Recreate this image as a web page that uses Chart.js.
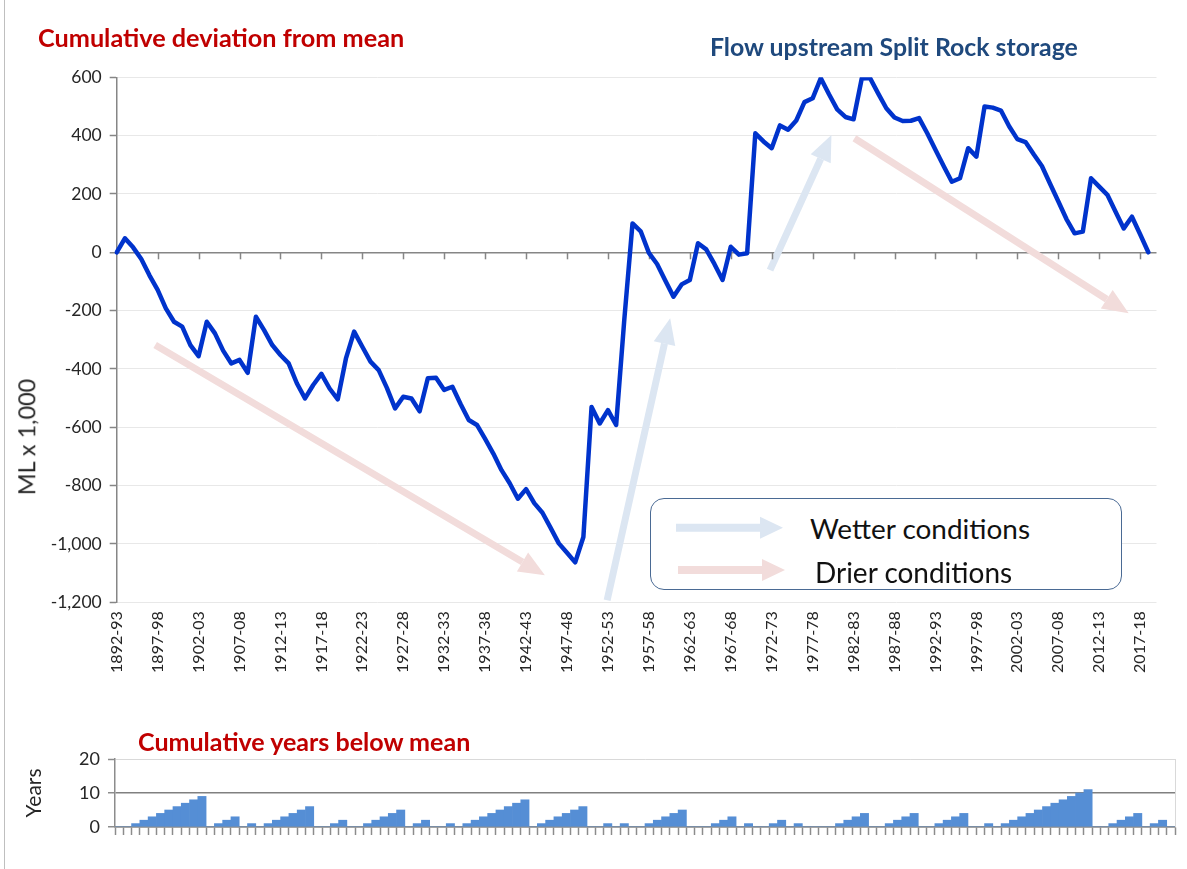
<!DOCTYPE html>
<html>
<head>
<meta charset="utf-8">
<title>Flow upstream Split Rock storage</title>
<script src="https://cdn.jsdelivr.net/npm/chart.js@4.4.1/dist/chart.umd.min.js"></script>
<style>
    body { margin: 0; background: #ffffff; }
    #marco { position: relative; width: 1187px; height: 869px; overflow: hidden; font-family: Lato, "Open Sans", sans-serif; background: #fff; }
    #marco canvas { position: absolute; left: 0; }
    #grafico-linea { top: 0; }
    #grafico-barras { top: 700px; }
    .texto { position: absolute; white-space: nowrap; line-height: 1; transform: translateY(-50%); z-index: 3; }
    .titulo { font-weight: bold; font-size: 20px; }
    .titulo-eje { position: absolute; white-space: nowrap; line-height: 1; font-size: 20px; color: #262626;
                  transform: translate(-50%, -50%) rotate(-90deg); z-index: 3; }
    #leyenda { position: absolute; left: 650px; top: 498px; width: 472px; height: 92px; box-sizing: border-box;
               border: 1.5px solid #4A6A94; border-radius: 14px; background: #fff; z-index: 2; }
    #leyenda svg { position: absolute; left: 0; top: 0; }
    .leyenda-texto { font-size: 24px; color: #111; }
    #borde { position: absolute; left: 4px; top: 0; width: 1px; height: 869px; background: #BFBFBF; }
</style>
</head>
<body>
<div id="marco">
    <div id="borde"></div>
    <canvas id="grafico-linea" width="1187" height="700"></canvas>
    <canvas id="grafico-barras" width="1187" height="169"></canvas>

    <div class="texto titulo" style="left:38px; top:38px; color:#C00000;" data-ancho="366">Cumulative deviation from mean</div>
    <div class="texto titulo" style="left:710px; top:46px; color:#1F497D;" data-ancho="368">Flow upstream Split Rock storage</div>
    <div class="texto titulo" style="left:138px; top:742px; color:#C00000;" data-ancho="332">Cumulative years below mean</div>
    <div class="titulo-eje" style="left:27px; top:437px;" data-ancho="116">ML x 1,000</div>

    <div id="leyenda">
        <svg width="472" height="92">
            <path d="M25 24.7 H109 V17.7 L132 28.7 L109 39.7 V32.7 H25 Z" fill="#DCE6F2"/>
            <path d="M27 67 H111 V60 L134 71 L111 82 V75 H27 Z" fill="#F2DCDB"/>
        </svg>
    </div>
    <div class="texto leyenda-texto" style="left:810px; top:529px;" data-ancho="220">Wetter conditions</div>
    <div class="texto leyenda-texto" style="left:815px; top:573px;" data-ancho="197">Drier conditions</div>
</div>

<script>
// Años hidrológicos (categorías de ambos gráficos)
var categorias = [
    "1892-93","1893-94","1894-95","1895-96","1896-97","1897-98","1898-99","1899-00","1900-01","1901-02",
    "1902-03","1903-04","1904-05","1905-06","1906-07","1907-08","1908-09","1909-10","1910-11","1911-12",
    "1912-13","1913-14","1914-15","1915-16","1916-17","1917-18","1918-19","1919-20","1920-21","1921-22",
    "1922-23","1923-24","1924-25","1925-26","1926-27","1927-28","1928-29","1929-30","1930-31","1931-32",
    "1932-33","1933-34","1934-35","1935-36","1936-37","1937-38","1938-39","1939-40","1940-41","1941-42",
    "1942-43","1943-44","1944-45","1945-46","1946-47","1947-48","1948-49","1949-50","1950-51","1951-52",
    "1952-53","1953-54","1954-55","1955-56","1956-57","1957-58","1958-59","1959-60","1960-61","1961-62",
    "1962-63","1963-64","1964-65","1965-66","1966-67","1967-68","1968-69","1969-70","1970-71","1971-72",
    "1972-73","1973-74","1974-75","1975-76","1976-77","1977-78","1978-79","1979-80","1980-81","1981-82",
    "1982-83","1983-84","1984-85","1985-86","1986-87","1987-88","1988-89","1989-90","1990-91","1991-92",
    "1992-93","1993-94","1994-95","1995-96","1996-97","1997-98","1998-99","1999-00","2000-01","2001-02",
    "2002-03","2003-04","2004-05","2005-06","2006-07","2007-08","2008-09","2009-10","2010-11","2011-12",
    "2012-13","2013-14","2014-15","2015-16","2016-17","2017-18","2018-19","2019-20"
];

// Desviación acumulada respecto a la media (ML x 1,000)
var desviacionAcumulada = [
    0, 48, 17, -23, -79, -129, -192, -238, -255, -318,
    -356, -238, -278, -337, -381, -369, -413, -221, -267, -318,
    -352, -381, -449, -501, -455, -417, -467, -504, -364, -272,
    -324, -375, -404, -465, -535, -495, -501, -545, -432, -430,
    -472, -461, -520, -575, -592, -640, -690, -747, -792, -845,
    -812, -860, -893, -945, -998, -1030, -1063, -976, -530, -587,
    -541, -592, -230, 99, 72, -2, -40, -97, -152, -110,
    -95, 31, 10, -40, -95, 19, -8, -3, 408, 380,
    357, 435, 420, 452, 515, 528, 597, 542, 490, 464,
    456, 596, 598, 545, 494, 462, 450, 451, 460, 408,
    352, 296, 242, 254, 357, 328, 500, 496, 486, 432,
    388, 378, 336, 296, 235, 175, 114, 65, 71, 254,
    225, 197, 139, 82, 122, 62, 0, null
];

// Años acumulados por debajo de la media
var aniosBajoMedia = [
    0, 0, 1, 2, 3, 4, 5, 6, 7, 8,
    9, 0, 1, 2, 3, 0, 1, 0, 1, 2,
    3, 4, 5, 6, 0, 0, 1, 2, 0, 0,
    1, 2, 3, 4, 5, 0, 1, 2, 0, 0,
    1, 0, 1, 2, 3, 4, 5, 6, 7, 8,
    0, 1, 2, 3, 4, 5, 6, 0, 0, 1,
    0, 1, 0, 0, 1, 2, 3, 4, 5, 0,
    0, 0, 1, 2, 3, 0, 1, 0, 0, 1,
    2, 0, 1, 0, 0, 0, 0, 1, 2, 3,
    4, 0, 0, 1, 2, 3, 4, 0, 0, 1,
    2, 3, 4, 0, 0, 1, 0, 1, 2, 3,
    4, 5, 6, 7, 8, 9, 10, 11, 0, 0,
    1, 2, 3, 4, 0, 1, 2, 0
];

// Marcas de los ejes
var marcasDesviacion = [600, 400, 200, 0, -200, -400, -600, -800, -1000, -1200];
var marcasAnios = [0, 10, 20];

// Flechas de tendencia (en coordenadas de los datos: índice de año, valor)
var flechas = [
    { tipo: "seco",   desde: [4.7, -318],  hasta: [52.3, -1107] },
    { tipo: "humedo", desde: [59.9, -1193], hasta: [67.6, -226] },
    { tipo: "humedo", desde: [79.8, -61],  hasta: [87.3, 402] },
    { tipo: "seco",   desde: [90.1, 391],  hasta: [123.6, -209] }
];
var coloresFlecha = { humedo: "#DCE6F2", seco: "#F2DCDB" };

var fuente = "Lato, 'Open Sans', sans-serif";
var colorTexto = "#262626";
var colorEje = "#868686";

// Formato de miles con coma
function formatearMiles(valor) {
    return valor.toLocaleString("en-US");
}

// Dibuja una flecha con cuerpo y punta triangular
function dibujarFlecha(ctx, x1, y1, x2, y2, color, grosor, largoPunta, anchoPunta) {
    var ang = Math.atan2(y2 - y1, x2 - x1);
    var bx = x2 - largoPunta * Math.cos(ang);
    var by = y2 - largoPunta * Math.sin(ang);
    ctx.save();
    ctx.strokeStyle = color;
    ctx.lineWidth = grosor;
    ctx.beginPath();
    ctx.moveTo(x1, y1);
    ctx.lineTo(bx, by);
    ctx.stroke();
    ctx.fillStyle = color;
    ctx.beginPath();
    ctx.moveTo(x2, y2);
    ctx.lineTo(bx + anchoPunta / 2 * Math.sin(ang), by - anchoPunta / 2 * Math.cos(ang));
    ctx.lineTo(bx - anchoPunta / 2 * Math.sin(ang), by + anchoPunta / 2 * Math.cos(ang));
    ctx.closePath();
    ctx.fill();
    ctx.restore();
}

// Plugin: flechas de tendencia y marcas sobre la línea del cero
var pluginAnotaciones = {
    id: "anotaciones",
    beforeDatasetsDraw: function (chart) {
        var ctx = chart.ctx;
        var ejeX = chart.scales.x;
        var ejeY = chart.scales.y;
        flechas.forEach(function (f) {
            dibujarFlecha(ctx,
                ejeX.getPixelForValue(f.desde[0]), ejeY.getPixelForValue(f.desde[1]),
                ejeX.getPixelForValue(f.hasta[0]), ejeY.getPixelForValue(f.hasta[1]),
                coloresFlecha[f.tipo], 7, 26, 22);
        });
        // marcas cada 5 años sobre el eje del cero
        var y0 = ejeY.getPixelForValue(0);
        ctx.save();
        ctx.strokeStyle = colorEje;
        ctx.lineWidth = 1.5;
        for (var i = 5; i < categorias.length; i += 5) {
            var x = Math.round(ejeX.getPixelForValue(i)) + 0.5;
            ctx.beginPath();
            ctx.moveTo(x, y0);
            ctx.lineTo(x, y0 + 7);
            ctx.stroke();
        }
        ctx.restore();
    }
};

// Plugin: borde derecho del área del gráfico de barras
var pluginBordeDerecho = {
    id: "bordeDerecho",
    afterDraw: function (chart) {
        var a = chart.chartArea;
        var ctx = chart.ctx;
        ctx.save();
        ctx.strokeStyle = "#D9D9D9";
        ctx.lineWidth = 1;
        ctx.beginPath();
        ctx.moveTo(a.right + 0.5, a.top);
        ctx.lineTo(a.right + 0.5, a.bottom);
        ctx.stroke();
        ctx.restore();
    }
};

// Gráfico de desviación acumulada
var graficoLinea = new Chart(document.getElementById("grafico-linea"), {
    type: "line",
    data: {
        labels: categorias,
        datasets: [{
            data: desviacionAcumulada,
            borderColor: "#0033CC",
            borderWidth: 4.5,
            pointRadius: 0,
            tension: 0,
            borderJoinStyle: "round",
            borderCapStyle: "round",
            fill: false
        }]
    },
    options: {
        responsive: false,
        animation: false,
        layout: { padding: { left: 0, right: 30.5, top: 77.3, bottom: 0 } },
        plugins: { legend: { display: false }, tooltip: { enabled: false } },
        scales: {
            x: {
                offset: false,
                grid: { display: false, drawTicks: false },
                border: { display: false },
                ticks: {
                    autoSkip: false,
                    minRotation: 90,
                    maxRotation: 90,
                    padding: 9,
                    color: colorTexto,
                    font: { family: fuente, size: 16 },
                    callback: function (valor, indice) {
                        return indice % 5 === 0 ? categorias[indice] : "";
                    }
                },
                afterFit: function (eje) { eje.height = 97.7; }
            },
            y: {
                min: -1200,
                max: 600,
                afterBuildTicks: function (eje) {
                    eje.ticks = marcasDesviacion.map(function (v) { return { value: v }; });
                },
                grid: {
                    color: function (c) { return c.tick.value === 0 ? colorEje : "#E8E8E8"; },
                    lineWidth: function (c) { return c.tick.value === 0 ? 1.5 : 1; },
                    tickColor: colorEje,
                    tickLength: 7,
                    tickWidth: 1.5
                },
                border: { color: colorEje, width: 1.5 },
                ticks: {
                    padding: 8,
                    color: colorTexto,
                    font: { family: fuente, size: 17.5 },
                    callback: function (v) { return formatearMiles(v); }
                },
                afterFit: function (eje) { eje.width = 116.7; }
            }
        }
    },
    plugins: [pluginAnotaciones]
});

// Gráfico de años acumulados por debajo de la media
var graficoBarras = new Chart(document.getElementById("grafico-barras"), {
    type: "bar",
    data: {
        labels: categorias,
        datasets: [{
            data: aniosBajoMedia,
            backgroundColor: "#558ED5",
            borderWidth: 0,
            barPercentage: 1,
            categoryPercentage: 1
        }]
    },
    options: {
        responsive: false,
        animation: false,
        layout: { padding: { left: 0, right: 12, top: 59, bottom: 0 } },
        plugins: { legend: { display: false }, tooltip: { enabled: false } },
        scales: {
            x: {
                grid: { drawOnChartArea: false, drawTicks: true, tickLength: 8, tickColor: "#8C8C8C", tickWidth: 1.5 },
                border: { color: "#8C8C8C", width: 1.5 },
                ticks: { display: false, autoSkip: false },
                afterFit: function (eje) { eje.height = 42; }
            },
            y: {
                min: 0,
                max: 20,
                afterBuildTicks: function (eje) {
                    eje.ticks = marcasAnios.map(function (v) { return { value: v }; });
                },
                grid: {
                    color: function (c) { return c.tick.value === 20 ? "#D9D9D9" : "#808080"; },
                    lineWidth: function (c) { return c.tick.value === 20 ? 1 : 1.5; },
                    tickColor: "#8C8C8C",
                    tickLength: 7,
                    tickWidth: 1.5
                },
                border: { color: "#8C8C8C", width: 1.5 },
                ticks: {
                    padding: 8,
                    color: colorTexto,
                    font: { family: fuente, size: 18 }
                },
                title: {
                    display: true,
                    text: "Years",
                    color: colorTexto,
                    font: { family: fuente, size: 21 },
                    padding: { top: 22, bottom: 0 }
                },
                afterFit: function (eje) { eje.width = 115; }
            }
        }
    },
    plugins: [pluginBordeDerecho]
});

// Ajuste del tamaño de los textos a su ancho en el original
function ajustarTextos() {
    document.querySelectorAll("[data-ancho]").forEach(function (el) {
        var objetivo = parseFloat(el.dataset.ancho);
        var tam = parseFloat(getComputedStyle(el).fontSize);
        var ancho = el.offsetWidth;
        if (ancho > 0) el.style.fontSize = (tam * objetivo / ancho) + "px";
    });
}
ajustarTextos();
if (document.fonts && document.fonts.ready) {
    document.fonts.ready.then(function () {
        document.querySelectorAll("[data-ancho]").forEach(function (el) { el.style.fontSize = ""; });
        ajustarTextos();
    });
}
</script>
</body>
</html>
